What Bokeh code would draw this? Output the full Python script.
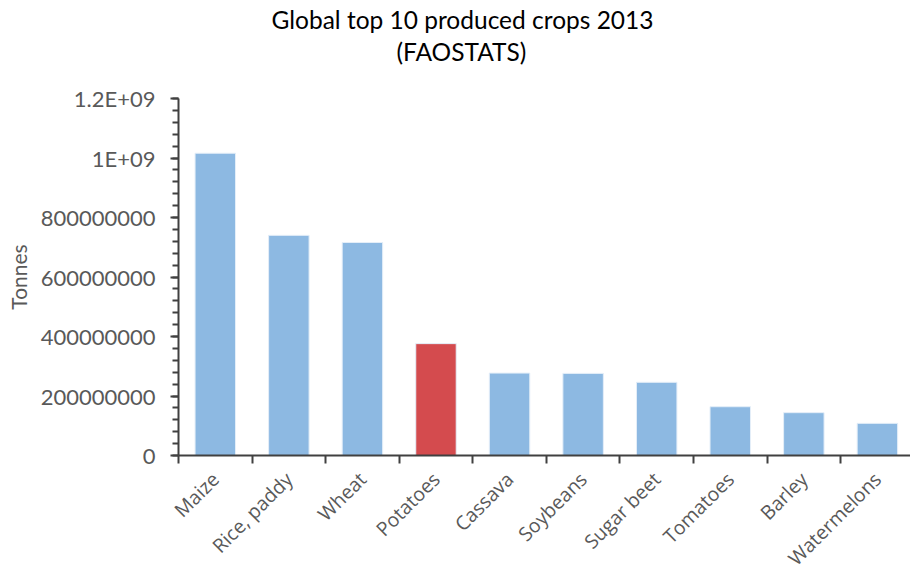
import math
import numpy as np
from bokeh.plotting import figure
from bokeh.models import ColumnDataSource, FixedTicker, Range1d, Title, LinearAxis
from bokeh.embed import file_html
from bokeh.resources import INLINE

# Global top 10 produced crops, 2013 (FAOSTAT), tonnes
crops = ["Maize", "Rice, paddy", "Wheat", "Potatoes", "Cassava",
         "Soybeans", "Sugar beet", "Tomatoes", "Barley", "Watermelons"]
tonnes = [1016000000, 740000000, 716000000, 376000000, 277000000,
          276000000, 246000000, 164000000, 144000000, 108000000]
highlight = "Potatoes"

y_ticks = [0, 200000000, 400000000, 600000000, 800000000, 1000000000, 1200000000]
y_tick_labels = ["0", "200000000", "400000000", "600000000", "800000000",
                 "1E+09", "1.2E+09"]

BLUE = "#8DB9E2"
RED = "#D44B4E"
AXIS = "#404040"
TEXT = "#595959"

n = len(crops)
centers = np.arange(n) + 0.5
colors = [RED if c == highlight else BLUE for c in crops]

source = ColumnDataSource(dict(x=centers, top=tonnes, crop=crops, color=colors))

p = figure(width=910, height=583, output_backend="svg", toolbar_location=None,
           title=None, x_range=Range1d(0, n - 0.05), y_range=Range1d(0, y_ticks[-1]),
           min_border_left=178, min_border_right=0, min_border_top=98,
           min_border_bottom=128)
p.outline_line_color = None
p.grid.visible = False
p.background_fill_color = "white"
p.border_fill_color = "white"

p.vbar(x="x", top="top", width=0.55, bottom=0, source=source,
       fill_color="color", line_color="#E4EEF8", line_width=1)

# x axis: labels at category centres, tick marks on the category boundaries
xa = p.xaxis[0]
xa.ticker = FixedTicker(ticks=list(centers), minor_ticks=list(np.arange(n + 1)))
xa.major_label_overrides = {float(c): name for c, name in zip(centers, crops)}
xa.major_label_orientation = math.pi / 4
xa.major_tick_line_color = None
xa.major_tick_out = 0
xa.major_tick_in = 0
xa.minor_tick_out = 8
xa.minor_tick_in = 0
xa.minor_tick_line_color = AXIS
xa.minor_tick_line_width = 2
xa.axis_line_color = AXIS
xa.axis_line_width = 2
xa.major_label_standoff = 12
xa.major_label_text_font = "Open Sans"
xa.major_label_text_font_size = "19.5px"
xa.major_label_text_color = TEXT

# y axis
ya = p.yaxis[0]
ya.ticker = FixedTicker(ticks=y_ticks,
                        minor_ticks=list(np.arange(0, y_ticks[-1] + 1, 40000000)))
ya.major_label_overrides = {float(t): s for t, s in zip(y_ticks, y_tick_labels)}
ya.axis_line_color = AXIS
ya.axis_line_width = 2
ya.major_tick_line_color = AXIS
ya.major_tick_line_width = 2
ya.major_tick_out = 8
ya.major_tick_in = 0
ya.minor_tick_line_color = AXIS
ya.minor_tick_line_width = 2
ya.minor_tick_out = 6
ya.minor_tick_in = 0
ya.major_label_standoff = 15
ya.major_label_text_font = "Lato"
ya.major_label_text_font_size = "22px"
ya.major_label_text_color = TEXT
ya.axis_label = "Tonnes"
ya.axis_label_text_font = "Lato"
ya.axis_label_text_font_style = "normal"
ya.axis_label_text_font_size = "21px"
ya.axis_label_text_color = TEXT
ya.axis_label_standoff = 7

# blank band between the plot area and the title block
gap = LinearAxis(ticker=FixedTicker(ticks=[n - 0.5]), axis_line_color=None,
                 major_tick_line_color="white", minor_tick_line_color=None,
                 major_tick_out=32, major_tick_in=0, minor_tick_out=0,
                 minor_tick_in=0, major_label_standoff=0,
                 major_label_overrides={float(n - 0.5): ""})
p.add_layout(gap, "above")

# two-line chart title (inner line added first)
p.add_layout(Title(text="(FAOSTATS)", align="left", offset=218, standoff=2,
                   text_font="Lato", text_font_size="24.5px",
                   text_font_style="normal", text_color="black"), "above")
p.add_layout(Title(text="Global top 10 produced crops 2013", align="left", offset=93,
                   standoff=0, text_font="Lato", text_font_size="24.5px",
                   text_font_style="normal", text_color="black"), "above")

open("out.html", "w").write(file_html(p, INLINE))
